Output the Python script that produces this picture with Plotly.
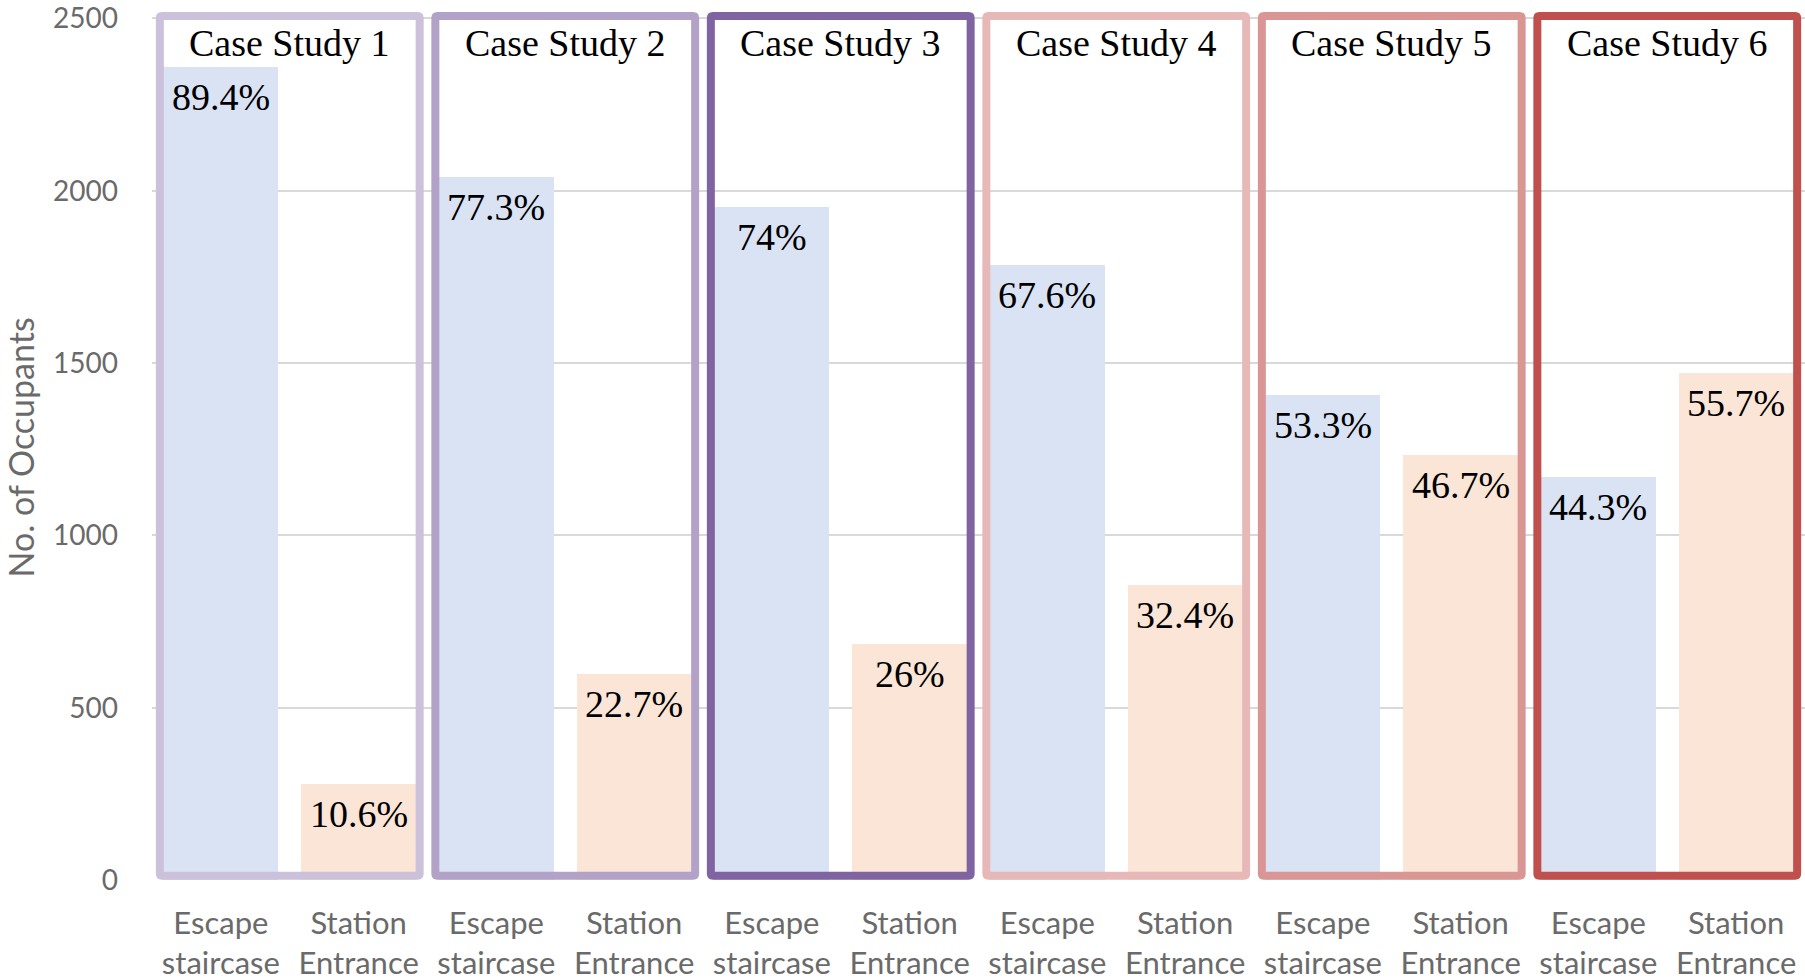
import plotly.graph_objects as go

# Occupant distribution per case study: escape staircase vs station entrance
case_names = ["Case Study 1", "Case Study 2", "Case Study 3",
              "Case Study 4", "Case Study 5", "Case Study 6"]
escape_counts = [2360, 2041, 1954, 1785, 1407, 1170]
entrance_counts = [280, 599, 686, 855, 1233, 1470]
escape_pct = ["89.4%", "77.3%", "74%", "67.6%", "53.3%", "44.3%"]
entrance_pct = ["10.6%", "22.7%", "26%", "32.4%", "46.7%", "55.7%"]
route_labels = ["Escape<br>staircase", "Station<br>Entrance"]
y_ticks = [0, 500, 1000, 1500, 2000, 2500]

box_colors = ["#CCC1DA", "#B3A2C7", "#8064A2", "#E6B9B8", "#D99694", "#C0504D"]
escape_color = "#DAE3F3"
entrance_color = "#FBE5D6"

SERIF = "Liberation Serif"
SANS = "Lato"
AXIS_GREY = "#6A6A6A"

n = len(case_names)
esc_x = [2 * k for k in range(n)]
ent_x = [2 * k + 1 for k in range(n)]
X_RANGE = [-0.5, 11.5]
Y_TOP = 2539

# corner rounding of the frames, in axis units (about 2 px each way)
RX, RY = 0.0145, 5.8


def rounded_frame(x0, x1, y0, y1):
    return (f"M {x0 + RX},{y0} L {x1 - RX},{y0} Q {x1},{y0} {x1},{y0 + RY} "
            f"L {x1},{y1 - RY} Q {x1},{y1} {x1 - RX},{y1} "
            f"L {x0 + RX},{y1} Q {x0},{y1} {x0},{y1 - RY} "
            f"L {x0},{y0 + RY} Q {x0},{y0} {x0 + RX},{y0} Z")


fig = go.Figure()
fig.add_trace(go.Bar(x=esc_x, y=escape_counts, width=0.835,
                     marker=dict(color=escape_color, line_width=0),
                     name="Escape staircase", hoverinfo="y"))
fig.add_trace(go.Bar(x=ent_x, y=entrance_counts, width=0.835,
                     marker=dict(color=entrance_color, line_width=0),
                     name="Station Entrance", hoverinfo="y"))

annotations = []
shapes = []
for k in range(n):
    # frame around each pair of bars
    shapes.append(dict(type="path", xref="x", yref="y",
                       path=rounded_frame(esc_x[k] - 0.443, ent_x[k] + 0.443, 12, 2507),
                       line=dict(color=box_colors[k], width=8),
                       fillcolor="rgba(0,0,0,0)", layer="above"))
    annotations.append(dict(x=(esc_x[k] + ent_x[k]) / 2, y=2429, xref="x", yref="y",
                            text=case_names[k], showarrow=False,
                            yanchor="middle", xanchor="center",
                            font=dict(family=SERIF, size=38, color="#000000")))
    for xv, val, lab in ((esc_x[k], escape_counts[k], escape_pct[k]),
                         (ent_x[k], entrance_counts[k], entrance_pct[k])):
        annotations.append(dict(x=xv, y=val, xref="x", yref="y", text=lab,
                                showarrow=False, yanchor="middle", xanchor="center",
                                yshift=-30,
                                font=dict(family=SERIF, size=38, color="#000000")))

annotations.append(dict(x=-0.0795, y=1254, xref="paper", yref="y",
                        text="No. of Occupants", textangle=-90, showarrow=False,
                        xanchor="center", yanchor="middle",
                        font=dict(family=SANS, size=34, color=AXIS_GREY)))

fig.update_layout(
    width=1805, height=980,
    margin=dict(l=152, r=0, t=5, b=100),
    paper_bgcolor="white", plot_bgcolor="white",
    showlegend=False, bargap=0,
    shapes=shapes, annotations=annotations,
    xaxis=dict(range=X_RANGE, tickmode="array",
               tickvals=esc_x + ent_x,
               ticktext=[route_labels[0]] * n + [route_labels[1]] * n,
               showgrid=False, zeroline=False, showline=False, ticks="",
               ticklabelstandoff=22,
               tickfont=dict(family=SANS, size=31, color=AXIS_GREY)),
    yaxis=dict(range=[0, Y_TOP], tickmode="array", tickvals=y_ticks,
               showgrid=True, gridcolor="#D9D9D9", gridwidth=1.5,
               zeroline=False, showline=False, ticks="",
               ticklabelstandoff=33,
               tickfont=dict(family=SANS, size=28, color=AXIS_GREY)),
)

fig.write_html("out.html")
